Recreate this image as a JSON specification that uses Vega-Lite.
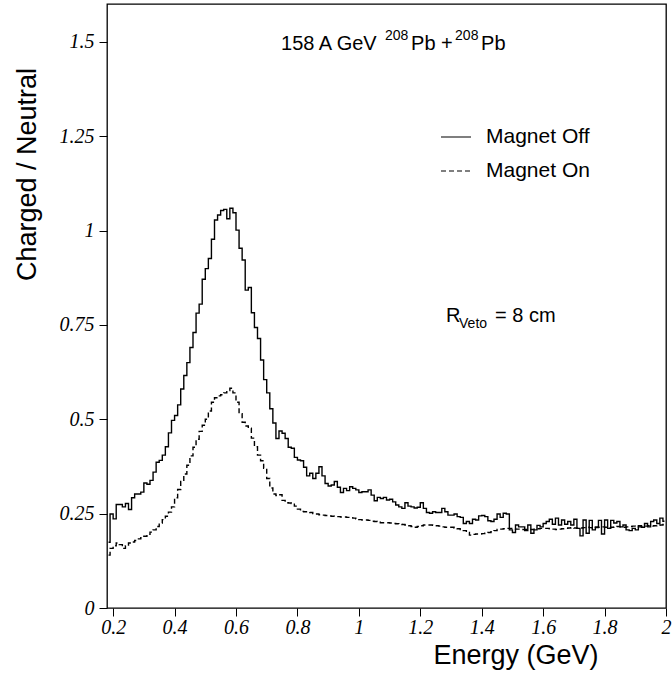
{
"$schema": "https://vega.github.io/schema/vega-lite/v6.json",
"width": 559, "height": 604,
"autosize": {"type": "none"},
"padding": {"left": 107, "top": 4, "right": 6, "bottom": 69},
"background": "white",
"config": {"view": {"stroke": "#000", "strokeWidth": 1.3}},
"data": {"values": [
{"E":0.185,"off":0.174,"on":0.140},{"E":0.195,"off":0.249,"on":0.158},{"E":0.205,"off":0.236,"on":0.165},{"E":0.215,"off":0.274,"on":0.172},{"E":0.225,"off":0.274,"on":0.168},{"E":0.235,"off":0.268,"on":0.158},{"E":0.245,"off":0.277,"on":0.165},{"E":0.255,"off":0.261,"on":0.172},{"E":0.265,"off":0.292,"on":0.175},{"E":0.275,"off":0.302,"on":0.179},
{"E":0.285,"off":0.302,"on":0.183},{"E":0.295,"off":0.307,"on":0.186},{"E":0.305,"off":0.331,"on":0.190},{"E":0.315,"off":0.328,"on":0.195},{"E":0.325,"off":0.338,"on":0.201},{"E":0.335,"off":0.360,"on":0.207},{"E":0.345,"off":0.386,"on":0.216},{"E":0.355,"off":0.391,"on":0.225},{"E":0.365,"off":0.405,"on":0.234},{"E":0.375,"off":0.427,"on":0.243},
{"E":0.385,"off":0.464,"on":0.254},{"E":0.395,"off":0.497,"on":0.268},{"E":0.405,"off":0.510,"on":0.292},{"E":0.415,"off":0.538,"on":0.314},{"E":0.425,"off":0.580,"on":0.335},{"E":0.435,"off":0.616,"on":0.355},{"E":0.445,"off":0.650,"on":0.378},{"E":0.455,"off":0.690,"on":0.403},{"E":0.465,"off":0.730,"on":0.426},{"E":0.475,"off":0.781,"on":0.447},
{"E":0.485,"off":0.805,"on":0.468},{"E":0.495,"off":0.871,"on":0.484},{"E":0.505,"off":0.899,"on":0.500},{"E":0.515,"off":0.926,"on":0.522},{"E":0.525,"off":0.977,"on":0.545},{"E":0.535,"off":1.028,"on":0.557},{"E":0.545,"off":1.041,"on":0.562},{"E":0.555,"off":1.053,"on":0.565},{"E":0.565,"off":1.056,"on":0.570},{"E":0.575,"off":1.031,"on":0.576},
{"E":0.585,"off":1.059,"on":0.582},{"E":0.595,"off":1.047,"on":0.570},{"E":0.605,"off":1.001,"on":0.545},{"E":0.615,"off":0.953,"on":0.515},{"E":0.625,"off":0.922,"on":0.492},{"E":0.635,"off":0.842,"on":0.482},{"E":0.645,"off":0.849,"on":0.476},{"E":0.655,"off":0.782,"on":0.450},{"E":0.665,"off":0.743,"on":0.427},{"E":0.675,"off":0.714,"on":0.405},
{"E":0.685,"off":0.657,"on":0.390},{"E":0.695,"off":0.605,"on":0.370},{"E":0.705,"off":0.570,"on":0.343},{"E":0.715,"off":0.528,"on":0.318},{"E":0.725,"off":0.490,"on":0.302},{"E":0.735,"off":0.449,"on":0.298},{"E":0.745,"off":0.469,"on":0.300},{"E":0.755,"off":0.463,"on":0.285},{"E":0.765,"off":0.449,"on":0.279},{"E":0.775,"off":0.426,"on":0.278},
{"E":0.785,"off":0.423,"on":0.277},{"E":0.795,"off":0.399,"on":0.270},{"E":0.805,"off":0.392,"on":0.262},{"E":0.815,"off":0.390,"on":0.256},{"E":0.825,"off":0.373,"on":0.255},{"E":0.835,"off":0.350,"on":0.255},{"E":0.845,"off":0.357,"on":0.253},{"E":0.855,"off":0.343,"on":0.250},{"E":0.865,"off":0.357,"on":0.249},{"E":0.875,"off":0.374,"on":0.247},
{"E":0.885,"off":0.350,"on":0.246},{"E":0.895,"off":0.330,"on":0.245},{"E":0.905,"off":0.323,"on":0.244},{"E":0.915,"off":0.326,"on":0.243},{"E":0.925,"off":0.335,"on":0.242},{"E":0.935,"off":0.320,"on":0.242},{"E":0.945,"off":0.306,"on":0.241},{"E":0.955,"off":0.317,"on":0.241},{"E":0.965,"off":0.311,"on":0.240},{"E":0.975,"off":0.321,"on":0.239},
{"E":0.985,"off":0.317,"on":0.238},{"E":0.995,"off":0.313,"on":0.236},{"E":1.005,"off":0.306,"on":0.234},{"E":1.015,"off":0.308,"on":0.233},{"E":1.025,"off":0.308,"on":0.233},{"E":1.035,"off":0.313,"on":0.232},{"E":1.045,"off":0.299,"on":0.230},{"E":1.055,"off":0.284,"on":0.229},{"E":1.065,"off":0.293,"on":0.227},{"E":1.075,"off":0.290,"on":0.226},
{"E":1.085,"off":0.293,"on":0.226},{"E":1.095,"off":0.286,"on":0.226},{"E":1.105,"off":0.288,"on":0.225},{"E":1.115,"off":0.281,"on":0.224},{"E":1.125,"off":0.273,"on":0.223},{"E":1.135,"off":0.268,"on":0.222},{"E":1.145,"off":0.264,"on":0.221},{"E":1.155,"off":0.279,"on":0.220},{"E":1.165,"off":0.270,"on":0.218},{"E":1.175,"off":0.268,"on":0.216},
{"E":1.185,"off":0.265,"on":0.214},{"E":1.195,"off":0.267,"on":0.216},{"E":1.205,"off":0.279,"on":0.218},{"E":1.215,"off":0.264,"on":0.220},{"E":1.225,"off":0.253,"on":0.220},{"E":1.235,"off":0.251,"on":0.220},{"E":1.245,"off":0.255,"on":0.219},{"E":1.255,"off":0.253,"on":0.218},{"E":1.265,"off":0.253,"on":0.217},{"E":1.275,"off":0.264,"on":0.215},
{"E":1.285,"off":0.255,"on":0.214},{"E":1.295,"off":0.246,"on":0.214},{"E":1.305,"off":0.246,"on":0.214},{"E":1.315,"off":0.249,"on":0.212},{"E":1.325,"off":0.242,"on":0.210},{"E":1.335,"off":0.240,"on":0.208},{"E":1.345,"off":0.224,"on":0.205},{"E":1.355,"off":0.229,"on":0.200},{"E":1.365,"off":0.224,"on":0.193},{"E":1.375,"off":0.235,"on":0.195},
{"E":1.385,"off":0.233,"on":0.196},{"E":1.395,"off":0.244,"on":0.196},{"E":1.405,"off":0.245,"on":0.197},{"E":1.415,"off":0.242,"on":0.198},{"E":1.425,"off":0.231,"on":0.200},{"E":1.435,"off":0.229,"on":0.202},{"E":1.445,"off":0.235,"on":0.205},{"E":1.455,"off":0.249,"on":0.208},{"E":1.465,"off":0.240,"on":0.209},{"E":1.475,"off":0.251,"on":0.210},
{"E":1.485,"off":0.249,"on":0.211},{"E":1.495,"off":0.207,"on":0.211},{"E":1.505,"off":0.200,"on":0.210},{"E":1.515,"off":0.220,"on":0.209},{"E":1.525,"off":0.215,"on":0.209},{"E":1.535,"off":0.215,"on":0.208},{"E":1.545,"off":0.205,"on":0.208},{"E":1.555,"off":0.220,"on":0.208},{"E":1.565,"off":0.198,"on":0.208},{"E":1.575,"off":0.207,"on":0.209},
{"E":1.585,"off":0.219,"on":0.210},{"E":1.595,"off":0.215,"on":0.211},{"E":1.605,"off":0.224,"on":0.211},{"E":1.615,"off":0.229,"on":0.211},{"E":1.625,"off":0.235,"on":0.210},{"E":1.635,"off":0.222,"on":0.209},{"E":1.645,"off":0.238,"on":0.208},{"E":1.655,"off":0.220,"on":0.209},{"E":1.665,"off":0.233,"on":0.210},{"E":1.675,"off":0.222,"on":0.211},
{"E":1.685,"off":0.229,"on":0.212},{"E":1.695,"off":0.220,"on":0.213},{"E":1.705,"off":0.235,"on":0.212},{"E":1.715,"off":0.211,"on":0.211},{"E":1.725,"off":0.191,"on":0.212},{"E":1.735,"off":0.233,"on":0.213},{"E":1.745,"off":0.198,"on":0.214},{"E":1.755,"off":0.232,"on":0.213},{"E":1.765,"off":0.207,"on":0.212},{"E":1.775,"off":0.215,"on":0.213},
{"E":1.785,"off":0.232,"on":0.214},{"E":1.795,"off":0.196,"on":0.215},{"E":1.805,"off":0.233,"on":0.214},{"E":1.815,"off":0.211,"on":0.213},{"E":1.825,"off":0.232,"on":0.214},{"E":1.835,"off":0.225,"on":0.215},{"E":1.845,"off":0.229,"on":0.216},{"E":1.855,"off":0.215,"on":0.215},{"E":1.865,"off":0.220,"on":0.214},{"E":1.875,"off":0.207,"on":0.215},
{"E":1.885,"off":0.205,"on":0.216},{"E":1.895,"off":0.211,"on":0.217},{"E":1.905,"off":0.207,"on":0.216},{"E":1.915,"off":0.218,"on":0.215},{"E":1.925,"off":0.214,"on":0.216},{"E":1.935,"off":0.224,"on":0.217},{"E":1.945,"off":0.215,"on":0.218},{"E":1.955,"off":0.229,"on":0.217},{"E":1.965,"off":0.233,"on":0.218},{"E":1.975,"off":0.224,"on":0.219},
{"E":1.985,"off":0.238,"on":0.220},{"E":1.995,"off":0.230,"on":0.221}
]},
"layer": [
{
"transform": [{"fold": ["off", "on"], "as": ["s", "v"]}],
"mark": {"type": "line", "interpolate": "step", "color": "black", "strokeWidth": 1.4, "clip": true},
"encoding": {
"x": {"field": "E", "type": "quantitative",
 "scale": {"domain": [0.18, 2.0], "nice": false, "zero": false},
 "axis": {
  "orient": "bottom", "domain": false, "grid": false,
  "values": [0.2,0.4,0.6,0.8,1,1.2,1.4,1.6,1.8,2],
  "labelExpr": "format(datum.value, '.1~f')",
  "ticks": true, "tickSize": 8, "tickColor": "#000000", "tickWidth": 1, "tickOpacity": 1,
  "labelFont": "Liberation Serif", "labelFontStyle": "italic", "labelFontSize": 20, "labelColor": "black",
  "labelPadding": 1, "labelOverlap": false, "labelFlush": false,
  "title": "Energy (GeV)", "titleFont": "Liberation Sans", "titleFontSize": 27, "titleFontWeight": "normal", "titleColor": "black",
  "titleX": 491, "titleY": 47, "titleAlign": "right", "titleBaseline": "middle"
 }},
"y": {"field": "v", "type": "quantitative",
 "scale": {"domain": [0, 1.6], "nice": false},
 "axis": {
  "orient": "left", "domain": false, "grid": false,
  "values": [0,0.25,0.5,0.75,1,1.25,1.5],
  "labelExpr": "format(datum.value, '.2~f')",
  "ticks": true, "tickSize": 8, "tickColor": "#000000", "tickWidth": 1, "tickOpacity": 1,
  "labelFont": "Liberation Serif", "labelFontStyle": "italic", "labelFontSize": 20, "labelColor": "black",
  "labelPadding": 5, "labelOverlap": false, "labelFlush": false,
  "title": "Charged / Neutral", "titleFont": "Liberation Sans", "titleFontSize": 27, "titleFontWeight": "normal", "titleColor": "black",
  "titleX": -80, "titleY": 170, "titleAlign": "center", "titleBaseline": "middle", "titleAngle": -90
 }},
"strokeDash": {"field": "s", "type": "nominal",
 "scale": {"domain": ["off", "on"], "range": [[1, 0], [5, 3]]},
 "legend": {"title": null, "orient": "none", "legendX": 333, "legendY": 117,
  "symbolType": "stroke", "symbolSize": 900, "symbolStrokeColor": "black", "symbolStrokeWidth": 1.2,
  "labelExpr": "datum.label == 'off' ? 'Magnet Off' : 'Magnet On'",
  "labelFont": "Liberation Sans", "labelFontSize": 21, "labelColor": "black", "labelOffset": 14, "rowPadding": 8, "labelLimit": 300}}
}
},
{
"data": {"values": [{}]},
"layer": [
 {"mark": {"type": "text", "align": "left", "baseline": "alphabetic", "font": "Liberation Sans", "fontSize": 20, "color": "black"},
  "encoding": {"x": {"datum": 0.7466}, "y": {"datum": 1.478}, "text": {"value": "158 A GeV"}}},
 {"mark": {"type": "text", "align": "left", "baseline": "alphabetic", "font": "Liberation Sans", "fontSize": 14, "color": "black"},
  "encoding": {"x": {"datum": 1.0852}, "y": {"datum": 1.505}, "text": {"value": "208"}}},
 {"mark": {"type": "text", "align": "left", "baseline": "alphabetic", "font": "Liberation Sans", "fontSize": 20, "color": "black"},
  "encoding": {"x": {"datum": 1.1699}, "y": {"datum": 1.478}, "text": {"value": "Pb +"}}},
 {"mark": {"type": "text", "align": "left", "baseline": "alphabetic", "font": "Liberation Sans", "fontSize": 14, "color": "black"},
  "encoding": {"x": {"datum": 1.3132}, "y": {"datum": 1.505}, "text": {"value": "208"}}},
 {"mark": {"type": "text", "align": "left", "baseline": "alphabetic", "font": "Liberation Sans", "fontSize": 20, "color": "black"},
  "encoding": {"x": {"datum": 1.3978}, "y": {"datum": 1.478}, "text": {"value": "Pb"}}},
 {"mark": {"type": "text", "align": "left", "baseline": "alphabetic", "font": "Liberation Sans", "fontSize": 20, "color": "black"},
  "encoding": {"x": {"datum": 1.2839}, "y": {"datum": 0.7576}, "text": {"value": "R"}}},
 {"mark": {"type": "text", "align": "left", "baseline": "alphabetic", "font": "Liberation Sans", "fontSize": 14, "color": "black"},
  "encoding": {"x": {"datum": 1.3262}, "y": {"datum": 0.7417}, "text": {"value": "Veto"}}},
 {"mark": {"type": "text", "align": "left", "baseline": "alphabetic", "font": "Liberation Sans", "fontSize": 20, "color": "black"},
  "encoding": {"x": {"datum": 1.4434}, "y": {"datum": 0.7576}, "text": {"value": "= 8 cm"}}}
]
}
]
}
